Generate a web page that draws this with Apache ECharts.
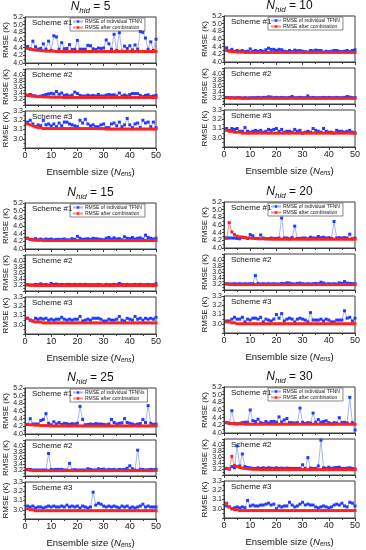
<!DOCTYPE html>
<html><head><meta charset="utf-8">
<script src="https://cdn.jsdelivr.net/npm/echarts@6/dist/echarts.min.js"></script>
<style>html,body{margin:0;padding:0;background:#fff}#c{width:366px;height:550px}</style>
</head><body><div id="c"></div>
<script>
// ---------- data ----------
const ENSEMBLE_SIZES = [1,2,3,4,5,6,7,8,9,10,11,12,13,14,15,16,17,18,19,20,21,22,23,24,25,26,27,28,29,30,31,32,33,34,35,36,37,38,39,40,41,42,43,44,45,46,47,48,49,50];
const N_HID = [5,10,15,20,25,30];
const SCHEMES = ['Scheme #1','Scheme #2','Scheme #3'];
const X_TICKS = [0,10,20,30,40,50];
const Y_TICKS_S1 = [4.0,4.2,4.4,4.6,4.8,5.0,5.2];
const Y_TICKS_S2 = [3.0,3.2,3.4,3.6,3.8,4.0,4.2];
const Y_TICKS_S3 = [3.0,3.1,3.2,3.3];
const Y_MIN_S3 = 2.9;
const NAME_IND = 'RMSE of individual TFNN';
const NAME_IND_25 = 'RMSE of individual TFNNs';
const NAME_COMB = 'RMSE after combination';

// N_hid = 5
const nh5_s1_ind = [4.43,4.36,4.57,4.42,4.36,4.38,4.50,4.36,4.57,4.33, 4.71,4.68,4.36,4.53,4.37,4.38,4.48,4.35,4.36,4.59, 4.36,4.36,4.36,4.46,4.45,4.37,4.35,4.39,4.38,4.39, 4.60,4.50,4.36,4.75,4.33,4.79,4.31,4.44,4.38,4.45, 4.34,4.47,4.36,4.82,4.80,4.65,4.36,4.55,4.33,4.62];
const nh5_s1_comb = [4.38,4.37,4.35,4.34,4.33,4.32,4.32,4.31,4.31,4.31, 4.31,4.30,4.30,4.30,4.30,4.30,4.30,4.30,4.30,4.30, 4.30,4.30,4.30,4.30,4.30,4.30,4.30,4.30,4.30,4.30, 4.30,4.30,4.30,4.30,4.30,4.30,4.30,4.30,4.30,4.30, 4.30,4.30,4.30,4.30,4.30,4.30,4.30,4.30,4.30,4.30];
const nh5_s2_ind = [3.33,3.35,3.31,3.30,3.28,3.30,3.32,3.35,3.37,3.39, 3.37,3.45,3.36,3.40,3.32,3.34,3.30,3.33,3.43,3.38, 3.32,3.30,3.30,3.33,3.30,3.32,3.30,3.35,3.30,3.30, 3.33,3.35,3.33,3.34,3.30,3.40,3.30,3.33,3.30,3.35, 3.38,3.38,3.38,3.32,3.28,3.32,3.34,3.28,3.30,3.32];
const nh5_s2_comb = [3.32,3.31,3.30,3.29,3.28,3.28,3.27,3.27,3.27,3.26, 3.26,3.26,3.26,3.26,3.25,3.25,3.25,3.25,3.25,3.25, 3.25,3.25,3.25,3.25,3.25,3.25,3.25,3.25,3.25,3.25, 3.25,3.25,3.25,3.25,3.25,3.25,3.25,3.25,3.25,3.25, 3.25,3.25,3.25,3.25,3.25,3.25,3.25,3.25,3.25,3.25];
const nh5_s3_ind = [3.18,3.20,3.16,3.13,3.15,3.14,3.20,3.15,3.16,3.14, 3.16,3.13,3.17,3.14,3.18,3.18,3.16,3.15,3.14,3.13, 3.20,3.17,3.21,3.16,3.14,3.15,3.13,3.13,3.15,3.16, 3.12,3.12,3.16,3.17,3.14,3.18,3.13,3.15,3.22,3.15, 3.12,3.16,3.17,3.12,3.20,3.17,3.18,3.13,3.18,3.12];
const nh5_s3_comb = [3.16,3.15,3.14,3.13,3.12,3.12,3.11,3.11,3.11,3.11, 3.11,3.11,3.11,3.11,3.11,3.11,3.11,3.11,3.11,3.11, 3.11,3.11,3.11,3.11,3.11,3.11,3.11,3.11,3.11,3.11, 3.105,3.105,3.105,3.105,3.105,3.105,3.105,3.105,3.105,3.105, 3.105,3.105,3.105,3.105,3.105,3.105,3.105,3.105,3.105,3.105];

// N_hid = 10
const nh10_s1_ind = [4.37,4.29,4.33,4.28,4.30,4.28,4.30,4.27,4.28,4.34, 4.28,4.30,4.28,4.30,4.28,4.32,4.36,4.33,4.33,4.30, 4.33,4.32,4.28,4.27,4.30,4.27,4.31,4.29,4.30,4.28, 4.27,4.26,4.30,4.29,4.31,4.30,4.30,4.26,4.28,4.27, 4.28,4.30,4.30,4.28,4.27,4.28,4.30,4.27,4.30,4.32];
const nh10_s1_comb = [4.30,4.28,4.27,4.27,4.26,4.26,4.26,4.25,4.25,4.25, 4.25,4.25,4.25,4.25,4.25,4.25,4.25,4.25,4.25,4.25, 4.25,4.25,4.25,4.25,4.25,4.25,4.25,4.25,4.25,4.25, 4.25,4.25,4.25,4.25,4.25,4.25,4.25,4.25,4.25,4.25, 4.25,4.25,4.25,4.25,4.25,4.25,4.25,4.25,4.25,4.25];
const nh10_s2_ind = [3.22,3.21,3.21,3.20,3.21,3.21,3.20,3.21,3.20,3.21, 3.21,3.21,3.22,3.21,3.22,3.22,3.24,3.23,3.21,3.22, 3.21,3.22,3.21,3.21,3.22,3.25,3.21,3.21,3.22,3.21, 3.21,3.27,3.21,3.22,3.21,3.21,3.21,3.22,3.21,3.22, 3.21,3.21,3.22,3.21,3.21,3.22,3.25,3.23,3.21,3.21];
const nh10_s2_comb = [3.21,3.20,3.20,3.20,3.20,3.20,3.19,3.19,3.19,3.19, 3.19,3.19,3.19,3.19,3.19,3.19,3.19,3.19,3.19,3.19, 3.19,3.19,3.19,3.19,3.19,3.19,3.19,3.19,3.19,3.19, 3.19,3.19,3.19,3.19,3.19,3.19,3.19,3.19,3.19,3.19, 3.19,3.19,3.19,3.19,3.19,3.19,3.19,3.19,3.19,3.19];
const nh10_s3_ind = [3.10,3.08,3.10,3.09,3.10,3.07,3.07,3.11,3.07,3.06, 3.07,3.08,3.07,3.08,3.06,3.07,3.09,3.08,3.09,3.10, 3.07,3.09,3.06,3.07,3.07,3.06,3.09,3.07,3.08,3.05, 3.06,3.07,3.06,3.10,3.08,3.07,3.06,3.10,3.07,3.06, 3.06,3.05,3.08,3.07,3.07,3.06,3.07,3.08,3.06,3.05];
const nh10_s3_comb = [3.08,3.07,3.07,3.06,3.06,3.06,3.05,3.05,3.05,3.05, 3.05,3.05,3.05,3.05,3.05,3.05,3.05,3.05,3.05,3.05, 3.05,3.05,3.05,3.05,3.05,3.05,3.05,3.05,3.05,3.05, 3.05,3.05,3.05,3.05,3.05,3.05,3.05,3.05,3.05,3.05, 3.05,3.05,3.05,3.05,3.05,3.05,3.05,3.05,3.05,3.05];

// N_hid = 15
const nh15_s1_ind = [4.28,4.25,4.24,4.27,4.24,4.26,4.24,4.26,4.25,4.26, 4.24,4.25,4.25,4.25,4.26,4.24,4.24,4.27,4.25,4.33, 4.28,4.25,4.26,4.27,4.25,4.28,4.27,4.26,4.25,4.24, 4.28,4.30,4.26,4.29,4.26,4.27,4.24,4.32,4.28,4.27, 4.30,4.26,4.28,4.29,4.26,4.36,4.30,4.28,4.26,4.28];
const nh15_s1_comb = [4.28,4.25,4.24,4.23,4.23,4.23,4.22,4.22,4.22,4.22, 4.22,4.22,4.22,4.22,4.22,4.22,4.22,4.22,4.22,4.22, 4.22,4.22,4.22,4.22,4.22,4.22,4.22,4.22,4.22,4.22, 4.22,4.22,4.22,4.22,4.22,4.22,4.22,4.22,4.22,4.22, 4.22,4.22,4.22,4.22,4.22,4.22,4.22,4.22,4.22,4.22];
const nh15_s2_ind = [3.21,3.20,3.20,3.22,3.21,3.24,3.21,3.22,3.20,3.25, 3.22,3.23,3.21,3.22,3.21,3.22,3.22,3.21,3.22,3.21, 3.22,3.21,3.22,3.21,3.21,3.21,3.21,3.22,3.21,3.20, 3.22,3.21,3.21,3.22,3.21,3.25,3.22,3.21,3.22,3.21, 3.21,3.22,3.21,3.22,3.21,3.21,3.22,3.21,3.21,3.24];
const nh15_s2_comb = [3.20,3.19,3.19,3.18,3.18,3.18,3.18,3.18,3.18,3.18, 3.18,3.18,3.18,3.18,3.18,3.18,3.18,3.18,3.18,3.18, 3.18,3.18,3.18,3.18,3.18,3.18,3.18,3.18,3.18,3.18, 3.18,3.18,3.18,3.18,3.18,3.18,3.18,3.18,3.18,3.18, 3.18,3.18,3.18,3.18,3.18,3.18,3.18,3.18,3.18,3.18];
const nh15_s3_ind = [3.07,3.05,3.04,3.07,3.06,3.07,3.06,3.07,3.05,3.06, 3.05,3.06,3.06,3.08,3.06,3.05,3.06,3.05,3.06,3.06, 3.09,3.04,3.05,3.06,3.05,3.07,3.07,3.07,3.06,3.04, 3.04,3.06,3.05,3.05,3.06,3.09,3.05,3.04,3.07,3.06, 3.05,3.09,3.06,3.07,3.05,3.07,3.06,3.07,3.06,3.08];
const nh15_s3_comb = [3.07,3.05,3.04,3.03,3.03,3.03,3.02,3.02,3.02,3.02, 3.02,3.02,3.02,3.02,3.02,3.02,3.02,3.02,3.02,3.02, 3.02,3.02,3.02,3.02,3.02,3.02,3.02,3.02,3.02,3.02, 3.02,3.02,3.02,3.02,3.02,3.02,3.02,3.02,3.02,3.02, 3.02,3.02,3.02,3.02,3.02,3.02,3.02,3.02,3.02,3.02];

// N_hid = 20
const nh20_s1_ind = [4.27,4.26,4.26,4.26,4.25,4.24,4.28,4.27,4.25,4.35, 4.32,4.25,4.24,4.34,4.26,4.24,4.24,4.26,4.25,4.25, 4.26,4.78,4.26,4.26,4.24,4.27,4.57,4.25,4.25,4.26, 4.26,4.24,4.28,4.26,4.26,4.30,4.27,4.28,4.26,4.27, 4.25,4.69,4.26,4.27,4.26,4.27,4.26,4.36,4.24,4.26];
const nh20_s1_comb = [4.25,4.66,4.42,4.35,4.31,4.29,4.28,4.27,4.26,4.26, 4.25,4.25,4.25,4.24,4.24,4.24,4.24,4.23,4.23,4.23, 4.23,4.23,4.23,4.23,4.23,4.23,4.23,4.23,4.23,4.23, 4.23,4.23,4.23,4.23,4.23,4.23,4.23,4.23,4.23,4.23, 4.23,4.23,4.23,4.23,4.23,4.23,4.23,4.23,4.23,4.23];
const nh20_s2_ind = [3.21,3.20,3.20,3.21,3.20,3.21,3.20,3.21,3.20,3.21, 3.21,3.48,3.22,3.20,3.21,3.20,3.21,3.20,3.21,3.20, 3.20,3.22,3.21,3.24,3.23,3.21,3.20,3.22,3.23,3.21, 3.20,3.21,3.20,3.21,3.22,3.21,3.26,3.23,3.20,3.21, 3.20,3.21,3.20,3.24,3.22,3.28,3.23,3.22,3.21,3.21];
const nh20_s2_comb = [3.20,3.19,3.19,3.18,3.18,3.18,3.18,3.18,3.18,3.18, 3.18,3.18,3.18,3.18,3.18,3.18,3.18,3.18,3.18,3.18, 3.18,3.18,3.18,3.18,3.18,3.18,3.18,3.18,3.18,3.18, 3.18,3.18,3.18,3.18,3.18,3.18,3.18,3.18,3.18,3.18, 3.18,3.18,3.18,3.18,3.18,3.18,3.18,3.18,3.18,3.18];
const nh20_s3_ind = [3.03,3.03,3.05,3.07,3.05,3.05,3.07,3.02,3.05,3.04, 3.06,3.06,3.05,3.07,3.02,3.05,3.04,3.03,3.05,3.10, 3.06,3.11,3.03,3.05,3.06,3.05,3.02,3.05,3.06,3.05, 3.04,3.02,3.12,3.04,3.04,3.04,3.05,3.03,3.05,3.04, 3.02,3.02,3.04,3.04,3.04,3.14,3.06,3.07,3.03,3.06];
const nh20_s3_comb = [3.02,3.02,3.01,3.01,3.00,3.00,3.00,3.00,3.00,3.00, 3.00,3.00,3.00,3.00,3.00,3.00,3.00,3.00,3.00,3.00, 3.00,3.00,3.00,3.00,3.00,3.00,3.00,3.00,3.00,3.00, 3.00,3.00,3.00,3.00,3.00,3.00,3.00,3.00,3.00,3.00, 3.00,3.00,3.00,3.00,3.00,3.00,3.00,3.00,3.00,3.00];

// N_hid = 25
const nh25_s1_ind = [4.25,4.40,4.26,4.26,4.26,4.35,4.38,4.53,4.28,4.24, 4.32,4.26,4.30,4.25,4.28,4.27,4.25,4.27,4.26,4.28, 4.72,4.38,4.24,4.25,4.26,4.25,4.27,4.26,4.26,4.25, 4.24,4.26,4.38,4.30,4.26,4.28,4.29,4.40,4.30,4.28, 4.26,4.24,4.26,4.27,4.38,4.30,4.74,4.28,4.25,4.26];
const nh25_s1_comb = [4.25,4.24,4.24,4.23,4.23,4.22,4.22,4.22,4.22,4.21, 4.21,4.21,4.21,4.21,4.21,4.21,4.21,4.21,4.21,4.21, 4.21,4.21,4.21,4.21,4.21,4.21,4.21,4.21,4.21,4.21, 4.21,4.21,4.21,4.21,4.21,4.21,4.21,4.21,4.21,4.21, 4.21,4.21,4.21,4.21,4.21,4.21,4.21,4.21,4.21,4.21];
const nh25_s2_ind = [3.22,3.22,3.20,3.20,3.20,3.20,3.20,3.20,3.75,3.22, 3.21,3.22,3.22,3.22,3.20,3.20,3.42,3.20,3.21,3.20, 3.20,3.20,3.20,3.24,3.22,3.20,3.20,3.24,3.22,3.23, 3.20,3.22,3.21,3.22,3.20,3.22,3.21,3.22,3.26,3.34, 3.24,3.20,3.86,3.22,3.22,3.20,3.21,3.22,3.21,3.22];
const nh25_s2_comb = [3.21,3.19,3.18,3.18,3.18,3.18,3.18,3.18,3.18,3.18, 3.18,3.18,3.18,3.18,3.18,3.18,3.18,3.18,3.18,3.18, 3.18,3.18,3.18,3.18,3.18,3.18,3.18,3.18,3.18,3.18, 3.18,3.18,3.18,3.18,3.18,3.18,3.18,3.18,3.18,3.18, 3.18,3.18,3.18,3.18,3.18,3.18,3.18,3.18,3.18,3.18];
const nh25_s3_ind = [3.04,3.03,3.04,3.02,3.03,3.03,3.02,3.03,3.04,3.03, 3.04,3.03,3.03,3.04,3.03,3.05,3.03,3.04,3.03,3.04, 3.02,3.04,3.03,3.02,3.03,3.19,3.05,3.07,3.06,3.04, 3.03,3.04,3.03,3.04,3.03,3.02,3.04,3.03,3.04,3.02, 3.03,3.02,3.03,3.04,3.06,3.03,3.04,3.03,3.03,3.03];
const nh25_s3_comb = [3.01,3.00,3.00,2.99,2.99,2.99,2.99,2.99,2.99,2.99, 2.99,2.99,2.99,2.99,2.99,2.99,2.99,2.99,2.99,2.99, 2.99,2.99,2.99,2.99,2.99,2.99,2.99,2.99,2.99,2.99, 2.99,2.99,2.99,2.99,2.99,2.99,2.99,2.99,2.99,2.99, 2.99,2.99,2.99,2.99,2.99,2.99,2.99,2.99,2.99,2.99];

// N_hid = 30
const nh30_s1_ind = [4.27,4.25,4.58,4.24,4.24,4.25,4.27,4.28,4.28,4.60, 4.32,4.30,4.36,4.27,4.25,4.30,4.26,4.30,4.30,4.28, 4.42,4.29,4.34,4.38,4.27,4.27,4.26,4.27,4.65,4.28, 4.25,4.27,4.26,4.52,4.28,4.35,4.28,4.30,4.32,4.27, 4.24,4.27,4.26,4.40,4.27,4.28,4.26,4.93,4.27,4.08];
const nh30_s1_comb = [4.27,4.26,4.25,4.25,4.24,4.24,4.24,4.23,4.23,4.23, 4.23,4.23,4.23,4.23,4.23,4.23,4.23,4.23,4.23,4.23, 4.23,4.23,4.23,4.23,4.23,4.23,4.23,4.23,4.23,4.23, 4.23,4.23,4.23,4.23,4.23,4.23,4.23,4.23,4.23,4.23, 4.23,4.23,4.23,4.23,4.23,4.23,4.23,4.23,4.23,4.23];
const nh30_s2_ind = [3.22,3.20,3.28,3.24,3.97,3.30,3.70,3.28,3.25,3.24, 3.22,3.22,3.24,3.22,3.24,3.22,3.24,3.23,3.22,3.24, 3.22,3.23,3.22,3.23,3.22,3.22,3.22,3.22,3.22,3.34, 3.22,3.58,3.23,3.22,3.22,3.30,4.16,3.24,3.22,3.26, 3.22,3.24,3.25,3.26,3.22,3.22,3.23,3.24,3.22,3.20];
const nh30_s2_comb = [3.22,3.20,3.62,3.32,3.28,3.25,3.23,3.22,3.21,3.20, 3.19,3.19,3.19,3.18,3.18,3.18,3.18,3.18,3.18,3.18, 3.18,3.18,3.18,3.18,3.18,3.18,3.18,3.18,3.18,3.18, 3.18,3.18,3.18,3.18,3.18,3.18,3.18,3.18,3.18,3.18, 3.18,3.18,3.18,3.18,3.18,3.18,3.18,3.18,3.18,3.18];
const nh30_s3_ind = [3.03,3.02,3.00,3.01,3.02,3.01,3.02,3.01,3.09,3.03, 3.04,3.03,3.03,3.04,3.04,3.05,3.06,3.04,3.05,3.00, 3.03,3.02,3.03,3.03,3.07,3.04,3.02,3.03,3.05,3.07, 3.04,3.05,3.04,3.04,3.02,3.01,3.02,3.03,3.02,3.01, 3.02,3.04,3.05,3.04,3.06,3.03,3.02,3.07,3.06,3.03];
const nh30_s3_comb = [3.06,3.02,3.00,2.99,2.99,2.98,2.98,2.98,2.98,2.98, 2.98,2.98,2.98,2.98,2.98,2.98,2.98,2.98,2.98,2.98, 2.98,2.98,2.98,2.98,2.98,2.98,2.98,2.98,2.98,2.98, 2.98,2.98,2.98,2.98,2.98,2.98,2.98,2.98,2.98,2.98, 2.98,2.98,2.98,2.98,2.98,2.98,2.98,2.98,2.98,2.98];

const PANEL_DATA = [
  [[nh5_s1_ind,nh5_s1_comb],[nh5_s2_ind,nh5_s2_comb],[nh5_s3_ind,nh5_s3_comb]],
  [[nh10_s1_ind,nh10_s1_comb],[nh10_s2_ind,nh10_s2_comb],[nh10_s3_ind,nh10_s3_comb]],
  [[nh15_s1_ind,nh15_s1_comb],[nh15_s2_ind,nh15_s2_comb],[nh15_s3_ind,nh15_s3_comb]],
  [[nh20_s1_ind,nh20_s1_comb],[nh20_s2_ind,nh20_s2_comb],[nh20_s3_ind,nh20_s3_comb]],
  [[nh25_s1_ind,nh25_s1_comb],[nh25_s2_ind,nh25_s2_comb],[nh25_s3_ind,nh25_s3_comb]],
  [[nh30_s1_ind,nh30_s1_comb],[nh30_s2_ind,nh30_s2_comb],[nh30_s3_ind,nh30_s3_comb]]
];

// ---------- layout ----------
const FONT = 'Arial, "Liberation Sans", sans-serif';
const COLS = [{left:25, width:131}, {left:224, width:131}];
const ROWS = [0, 186, 371];
const SUB = [{top:17, h:46}, {top:69, h:36}, {top:111, h:37}];
const Y_AXES = [
  {ticks: Y_TICKS_S1, min: Y_TICKS_S1[0], interval: 0.2},
  {ticks: Y_TICKS_S2, min: Y_TICKS_S2[0], interval: 0.2},
  {ticks: Y_TICKS_S3, min: Y_MIN_S3, interval: 0.1}
];
const BLUE = '#1f3cff', BLUE_L = '#a6b6f6', RED = '#ff1f1f', RED_L = '#f59090', FRAME = '#3a3a3a';

const grid = [], xAxis = [], yAxis = [], series = [], legend = [], graphic = [];
N_HID.forEach((nh, p) => {
  const col = p % 2, row = Math.floor(p / 2);
  const off = ROWS[row] - (col ? 1 : 0);
  const L = COLS[col].left, W = COLS[col].width;
  const indName = nh === 25 ? NAME_IND_25 : NAME_IND;
  graphic.push({
    type: 'text', x: L + W / 2, y: off + 7, silent: true,
    style: {
      text: '{n|N}{s|hid}{t| = ' + nh + '}', align: 'center', verticalAlign: 'middle',
      rich: {
        n: {fontSize: 12, fontStyle: 'italic', fontFamily: FONT, fill: '#111'},
        s: {fontSize: 8, fontStyle: 'italic', fontFamily: FONT, fill: '#111', padding: [7, 0, 0, 0]},
        t: {fontSize: 12, fontFamily: FONT, fill: '#111'}
      }
    }
  });
  SUB.forEach((sb, s) => {
    const gi = p * 3 + s;
    const top = off + sb.top;
    const ya = Y_AXES[s];
    grid.push({left: L, top: top, width: W, height: sb.h, show: true, borderColor: FRAME, borderWidth: 1, containLabel: false});
    xAxis.push({
      gridIndex: gi, type: 'value', min: X_TICKS[0], max: X_TICKS[X_TICKS.length - 1], interval: 10,
      axisLine: {onZero: false, lineStyle: {color: FRAME, width: 1}},
      axisTick: {length: 3, lineStyle: {color: FRAME}},
      minorTick: {show: true, splitNumber: 2, length: 2, lineStyle: {color: FRAME}},
      splitLine: {show: false},
      axisLabel: {show: s === 2, fontSize: 9, color: '#222', margin: 3, fontFamily: FONT},
      name: s === 2 ? '{a|Ensemble size (}{n|N}{s|ens}{a|)}' : '',
      nameLocation: 'middle', nameGap: 18,
      nameTextStyle: {
        rich: {
          a: {fontSize: 9.5, color: '#111', fontFamily: FONT},
          n: {fontSize: 9.5, color: '#111', fontFamily: FONT, fontStyle: 'italic'},
          s: {fontSize: 6.5, color: '#111', fontFamily: FONT, fontStyle: 'italic', padding: [5, 0, 0, 0]}
        }
      }
    });
    yAxis.push({
      gridIndex: gi, type: 'value', min: ya.min, max: ya.ticks[ya.ticks.length - 1], interval: ya.interval,
      axisLine: {show: true, onZero: false, lineStyle: {color: FRAME, width: 1}},
      axisTick: {show: true, length: 2, lineStyle: {color: FRAME}},
      minorTick: {show: true, splitNumber: 2, length: 1.5, lineStyle: {color: FRAME}},
      splitLine: {show: false},
      axisLabel: {fontSize: 7, color: '#222', margin: 2, fontFamily: FONT,
        formatter: v => (v < ya.ticks[0] - 1e-6 ? '' : v.toFixed(1))},
      name: 'RMSE (K)', nameLocation: 'middle', nameGap: 12,
      nameTextStyle: {fontSize: 8, color: '#111', fontFamily: FONT}
    });
    const [ind, comb] = PANEL_DATA[p][s];
    series.push({
      type: 'line', name: indName, xAxisIndex: gi, yAxisIndex: gi,
      data: ENSEMBLE_SIZES.map((n, i) => [n, ind[i]]),
      symbol: 'rect', symbolSize: 3, showSymbol: true,
      lineStyle: {color: BLUE_L, width: 1}, itemStyle: {color: BLUE}, z: 2
    });
    series.push({
      type: 'line', name: NAME_COMB, xAxisIndex: gi, yAxisIndex: gi,
      data: ENSEMBLE_SIZES.map((n, i) => [n, comb[i]]),
      symbol: 'rect', symbolSize: 3, showSymbol: true,
      lineStyle: {color: RED_L, width: 1}, itemStyle: {color: RED}, z: 3
    });
    graphic.push({
      type: 'text', x: L + 7, y: top + 6, silent: true,
      style: {text: SCHEMES[s], fontSize: 8, fontFamily: FONT, fill: '#111', align: 'left', verticalAlign: 'middle'}
    });
  });
  legend.push({
    data: [indName, NAME_COMB], orient: 'vertical',
    left: col ? 268 : 70, top: off + 18,
    itemWidth: 10, itemHeight: 3, itemGap: 1, padding: [1, 3, 1, 2],
    borderColor: '#555', borderWidth: 0.7, selectedMode: false,
    textStyle: {fontSize: 5, color: '#222', fontFamily: FONT, padding: [0, 0, 0, -3]}
  });
});

const chart = echarts.init(document.getElementById('c'), null, {renderer: 'canvas'});
chart.setOption({
  animation: false,
  backgroundColor: '#fff',
  textStyle: {fontFamily: FONT},
  grid, xAxis, yAxis, series, legend, graphic
});
</script>
</body></html>
